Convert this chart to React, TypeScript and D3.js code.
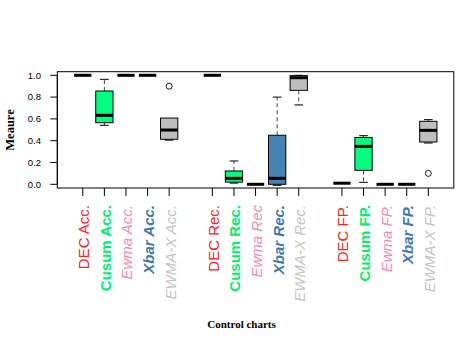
import * as d3 from 'd3';
import React from 'react';

// Five-number summaries per control chart and measure
const groups = [
  'DEC Acc.', 'Cusum Acc.', 'Ewma Acc.', 'Xbar Acc.', 'EWMA-X Acc.',
  'DEC Rec.', 'Cusum Rec.', 'Ewma Rec', 'Xbar Rec.', 'EWMA-X Rec.',
  'DEC FP.', 'Cusum FP.', 'Ewma FP.', 'Xbar FP.', 'EWMA-X FP.',
];
const lowWhisker = [1, 0.541, 1, 1, 0.405, 1, 0.02, 0, 0, 0.728, 0.01, 0.018, 0, 0, 0.388];
const q1 = [1, 0.565, 1, 1, 0.413, 1, 0.02, 0, 0, 0.862, 0.01, 0.128, 0, 0, 0.388];
const median = [1, 0.633, 1, 1, 0.498, 1, 0.055, 0, 0.055, 0.978, 0.01, 0.348, 0, 0, 0.495];
const q3 = [1, 0.856, 1, 1, 0.608, 1, 0.122, 0, 0.45, 0.997, 0.01, 0.43, 0, 0, 0.578];
const highWhisker = [1, 0.963, 1, 1, 0.608, 1, 0.214, 0, 0.8, 1.0, 0.01, 0.446, 0, 0, 0.593];
const outliers: number[][] = [[], [], [], [], [0.9], [], [], [], [], [], [], [], [], [], [0.1]];
const yTicks = [0, 0.2, 0.4, 0.6, 0.8, 1.0];

const boxFill = ['#FF0000', '#00FF7F', '#FF69B4', '#4682B4', '#BEBEBE'];
const labelColor = ['#FF2020', '#00F070', '#F58AB5', '#3F78B0', '#C4C4C4'];
const labelWeight = ['normal', 'bold', 'normal', 'bold', 'normal'];
const labelStyle = ['normal', 'normal', 'italic', 'italic', 'italic'];

export default function App() {
  const W = 469, H = 356;
  const plot = { left: 57.3, right: 453.8, top: 71.7, bottom: 188 };

  const x = d3.scaleLinear().domain([-0.18, 18.18]).range([plot.left, plot.right]);
  const y = d3.scaleLinear().domain([0, 1]).range([184.3, 75.3]);

  // one empty slot between each block of five
  const pos = (i: number) => i + 1 + Math.floor(i / 5);
  const halfBox = (x(0.4) - x(0));
  const halfStaple = halfBox / 2;

  return (
    <svg width={W} height={H} style={{ position: 'absolute', left: 0, top: 0, background: '#fff' }}>
      {/* y axis */}
      <line x1={plot.left} x2={plot.left} y1={y(0)} y2={y(1)} stroke="#000" />
      {yTicks.map(t => (
        <g key={t}>
          <line x1={plot.left - 7} x2={plot.left} y1={y(t)} y2={y(t)} stroke="#000" />
          <text x={41} y={y(t) + 3.3} textAnchor="end" fontSize={9.5} fontFamily="Liberation Sans, Arial, sans-serif">
            {t.toFixed(1)}
          </text>
        </g>
      ))}

      {/* boxes */}
      {groups.map((g, i) => {
        const cx = x(pos(i));
        const k = i % 5;
        return (
          <g key={g}>
            {highWhisker[i] > q3[i] && (
              <>
                <line x1={cx} x2={cx} y1={y(q3[i])} y2={y(highWhisker[i])} stroke="#444" strokeDasharray="4,3" />
                <line x1={cx - halfStaple} x2={cx + halfStaple} y1={y(highWhisker[i])} y2={y(highWhisker[i])} stroke="#000" />
              </>
            )}
            {lowWhisker[i] < q1[i] && (
              <>
                <line x1={cx} x2={cx} y1={y(q1[i])} y2={y(lowWhisker[i])} stroke="#444" strokeDasharray="4,3" />
                <line x1={cx - halfStaple} x2={cx + halfStaple} y1={y(lowWhisker[i])} y2={y(lowWhisker[i])} stroke="#000" />
              </>
            )}
            {lowWhisker[i] === q1[i] && q3[i] > q1[i] && (
              <line x1={cx - halfStaple} x2={cx + halfStaple} y1={y(lowWhisker[i]) + 1} y2={y(lowWhisker[i]) + 1} stroke="#000" />
            )}
            <rect
              x={cx - halfBox}
              y={y(q3[i])}
              width={halfBox * 2}
              height={Math.max(0, y(q1[i]) - y(q3[i]))}
              fill={boxFill[k]}
              stroke="#000"
              strokeWidth={1}
            />
            <line x1={cx - halfBox} x2={cx + halfBox} y1={y(median[i])} y2={y(median[i])} stroke="#000" strokeWidth={3} />
            {outliers[i].map((o, j) => (
              <circle key={j} cx={cx} cy={y(o)} r={3} fill="none" stroke="#000" strokeWidth={0.9} />
            ))}
            <line x1={cx} x2={cx} y1={plot.bottom} y2={plot.bottom + 8} stroke="#000" />
            <text
              transform={`translate(${cx + 6.5},205) rotate(-90)`}
              textAnchor="end"
              fontSize={15}
              fontFamily="Liberation Sans, Arial, sans-serif"
              fontWeight={labelWeight[k]}
              fontStyle={labelStyle[k]}
              fill={labelColor[k]}
            >
              {g}
            </text>
          </g>
        );
      })}

      {/* plot frame */}
      <rect x={plot.left} y={plot.top} width={plot.right - plot.left} height={plot.bottom - plot.top} fill="none" stroke="#000" />

      {/* axis titles */}
      <text
        transform={`translate(14,130) rotate(-90)`}
        textAnchor="middle"
        fontSize={12.5}
        fontWeight="bold"
        fontFamily="Liberation Serif, Times New Roman, serif"
      >
        Meaure
      </text>
      <text x={241.5} y={328} textAnchor="middle" fontSize={11} fontWeight="bold" fontFamily="Liberation Serif, Times New Roman, serif">
        Control charts
      </text>
    </svg>
  );
}
